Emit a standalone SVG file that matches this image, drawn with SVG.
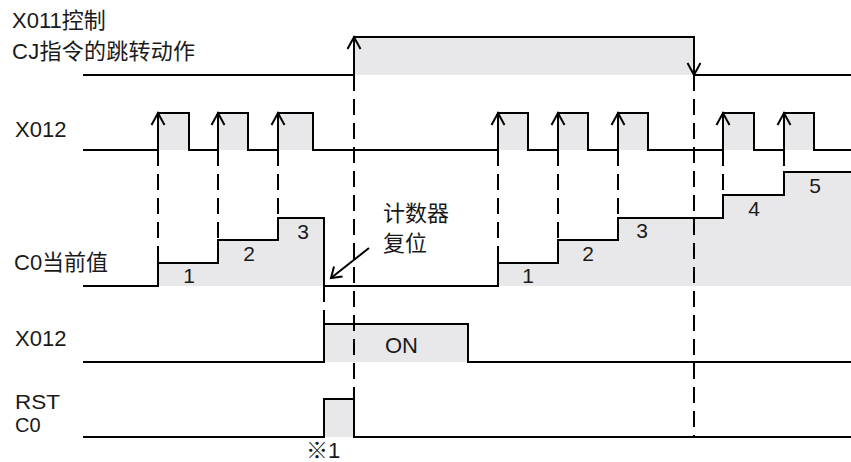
<svg xmlns="http://www.w3.org/2000/svg" xmlns:xlink="http://www.w3.org/1999/xlink" width="851" height="462" viewBox="0 0 851 462">
<style>
.txt{font-family:"Liberation Sans","Noto Sans CJK SC",sans-serif;font-size:22px;fill:#1a1a1a}
.num{text-anchor:middle;font-size:21px}
.sm{font-size:20px}
.wave{fill:none;stroke:#000;stroke-width:2}
.fill{fill:#e8e8ea;stroke:none}
.dash{fill:none;stroke:#000;stroke-width:2;stroke-dasharray:16 8}
.ah{fill:none;stroke:#000;stroke-width:2}
</style>
<defs>
<path id="up" d="M-6.5,12 L0,0 L6.5,12" class="ah"/>
<path id="down" d="M-6.5,-12 L0,0 L6.5,-12" class="ah"/>
</defs>
<rect width="851" height="462" fill="#fff"/>

<g id="labels">
<text class="txt" x="12" y="28">X011控制</text>
<text class="txt" x="12" y="59" textLength="183" lengthAdjust="spacing">CJ指令的跳转动作</text>
<text class="txt" x="15" y="137">X012</text>
<text class="txt" x="14" y="270">C0当前值</text>
<text class="txt" x="15" y="346">X012</text>
<text class="txt sm" x="15" y="409" textLength="45" lengthAdjust="spacingAndGlyphs">RST</text>
<text class="txt sm" x="15" y="432">C0</text>
</g>

<g id="sig-x011">
<rect class="fill" x="354" y="37" width="340" height="38"/>
<path class="wave" d="M83,75 H354 V37 H694 V75 H851"/>
<use xlink:href="#up" x="354" y="37"/>
<use xlink:href="#down" x="694" y="75"/>
</g>

<g id="sig-x012-top">
<rect class="fill" x="158" y="113" width="31" height="37"/>
<rect class="fill" x="218" y="113" width="30" height="37"/>
<rect class="fill" x="278" y="113" width="35" height="37"/>
<rect class="fill" x="498" y="113" width="30" height="37"/>
<rect class="fill" x="558" y="113" width="30" height="37"/>
<rect class="fill" x="618" y="113" width="30" height="37"/>
<rect class="fill" x="723" y="113" width="31" height="37"/>
<rect class="fill" x="784" y="113" width="30" height="37"/>
<path class="wave" d="M83,150 H158 V113 H189 V150 H218 V113 H248 V150 H278 V113 H313 V150 H498 V113 H528 V150 H558 V113 H588 V150 H618 V113 H648 V150 H723 V113 H754 V150 H784 V113 H814 V150 H851"/>
<use xlink:href="#up" x="158" y="113"/>
<use xlink:href="#up" x="218" y="113"/>
<use xlink:href="#up" x="278" y="113"/>
<use xlink:href="#up" x="498" y="113"/>
<use xlink:href="#up" x="558" y="113"/>
<use xlink:href="#up" x="618" y="113"/>
<use xlink:href="#up" x="723" y="113"/>
<use xlink:href="#up" x="784" y="113"/>
</g>

<g id="sig-c0">
<polygon class="fill" points="158,286 158,263 218,263 218,240 278,240 278,218 324,218 324,286"/>
<polygon class="fill" points="498,286 498,263 558,263 558,240 618,240 618,218 723,218 723,195 784,195 784,172 851,172 851,286"/>
<path class="wave" d="M83,286 H158 V263 H218 V240 H278 V218 H324 V286 H498 V263 H558 V240 H618 V218 H723 V195 H784 V172 H851"/>
<text class="txt num" x="189" y="283">1</text>
<text class="txt num" x="249" y="261">2</text>
<text class="txt num" x="303" y="239">3</text>
<text class="txt num" x="528" y="283">1</text>
<text class="txt num" x="588" y="261">2</text>
<text class="txt num" x="642" y="238">3</text>
<text class="txt num" x="754" y="216">4</text>
<text class="txt num" x="815" y="193">5</text>
</g>

<g id="sig-x012-bottom">
<rect class="fill" x="324" y="324" width="144" height="38"/>
<path class="wave" d="M83,362 H324 V324 H468 V362 H851"/>
<text class="txt" x="385" y="353">ON</text>
</g>

<g id="sig-rst">
<rect class="fill" x="324" y="399" width="30" height="38"/>
<path class="wave" d="M83,437 H324 V399 H354 V437 H851"/>
<text class="txt" x="306" y="458">※1</text>
</g>

<g id="note-reset">
<text class="txt" x="383" y="221">计数器</text>
<text class="txt" x="383" y="251">复位</text>
</g>

<g id="connectors">
<path class="dash" d="M158,150 V263"/>
<path class="dash" d="M218,150 V240"/>
<path class="dash" d="M278,150 V218"/>
<path class="dash" d="M354,75 V437"/>
<path class="dash" d="M498,150 V263"/>
<path class="dash" d="M558,150 V240"/>
<path class="dash" d="M618,150 V218"/>
<path class="dash" d="M694,75 V437"/>
<path class="dash" d="M723,150 V195"/>
<path class="dash" d="M784,150 V172"/>
<path class="dash" d="M324,286 V324"/>
<path class="ah" d="M369,248 L331,278"/>
<path class="ah" d="M334,266.5 L331,278 L342.5,276.5"/>
</g>
</svg>
